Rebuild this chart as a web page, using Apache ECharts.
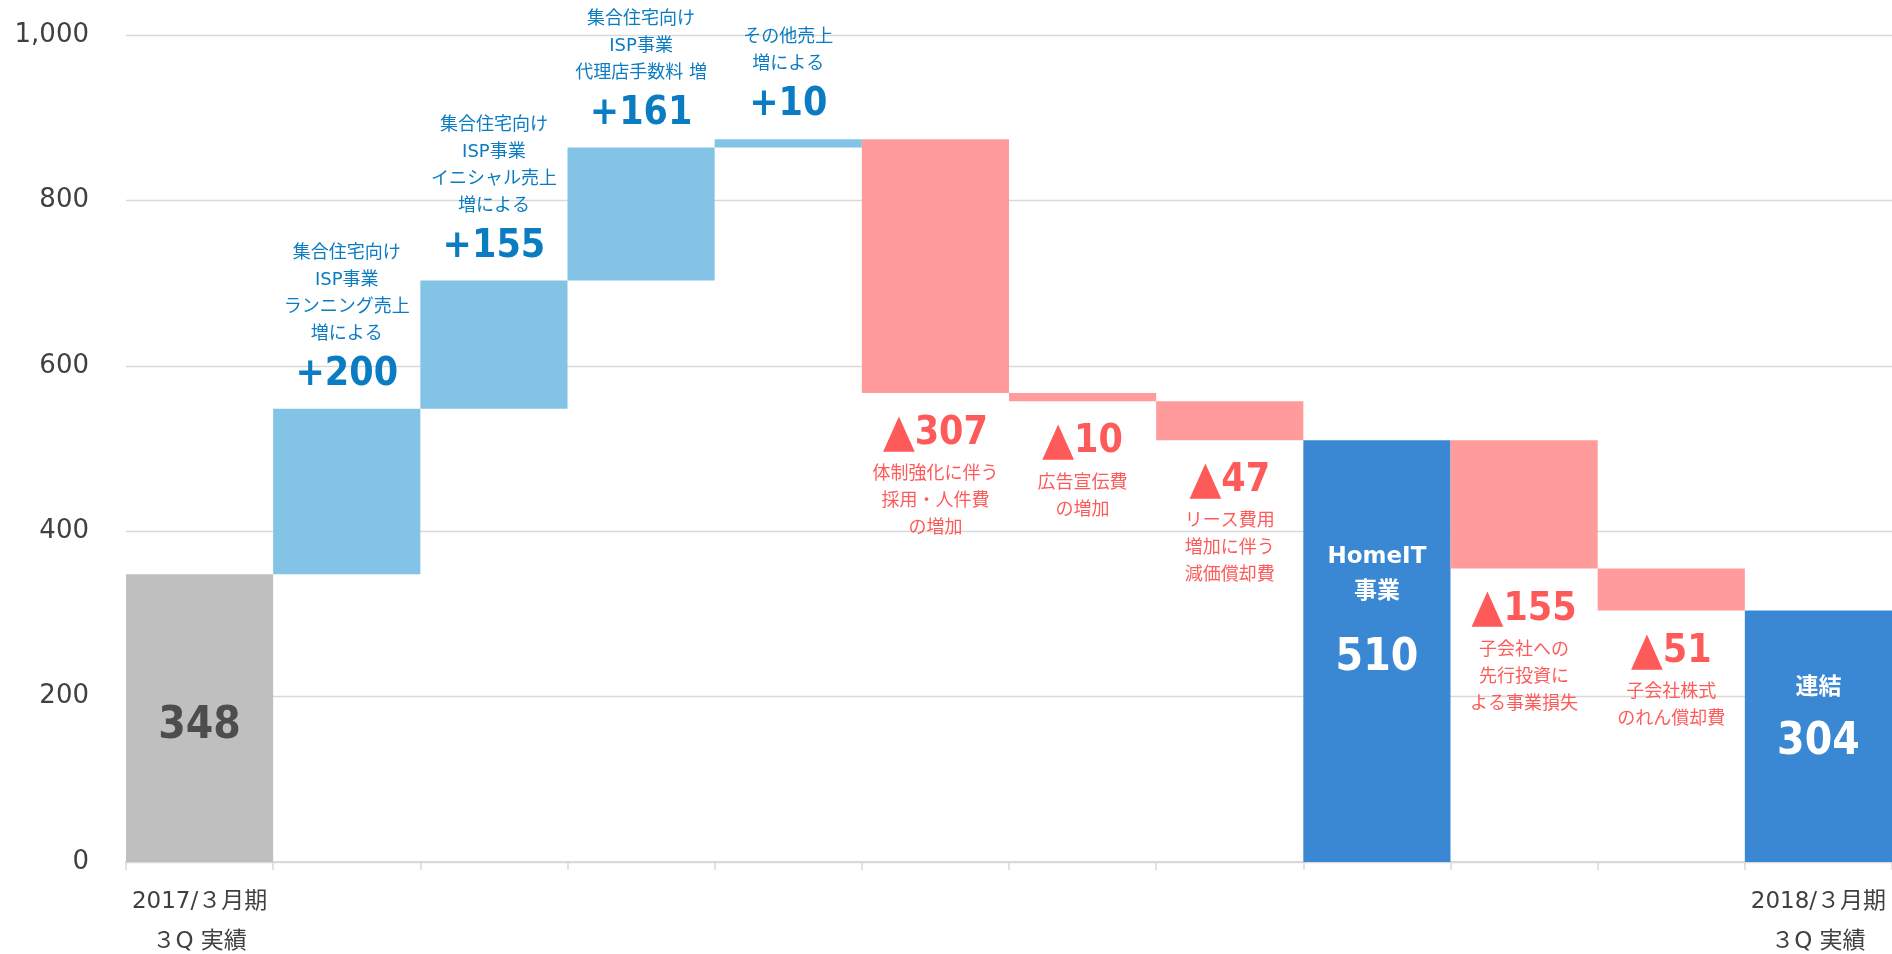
<!DOCTYPE html>
<html>
<head>
<meta charset="utf-8">
<script src="https://cdn.jsdelivr.net/npm/echarts@6/dist/echarts.min.js"></script>
<style>
html,body{margin:0;padding:0;background:#fff;}
#main{width:1892px;height:954px;}
</style>
</head>
<body>
<div id="main"></div>
<script>
// 横軸（両端だけ表示）
const categories = ['2017/３月期\n３Q 実績', '', '', '', '', '', '', '', '', '', '', '2018/３月期\n３Q 実績'];
// 増減値（合計棒は値そのもの）
const steps = [348, 200, 155, 161, 10, -307, -10, -47, 510, -155, -51, 304];
const isTotal = [true, false, false, false, false, false, false, false, true, false, false, true];
const notes = [
  '',
  '集合住宅向け\nISP事業\nランニング売上\n増による',
  '集合住宅向け\nISP事業\nイニシャル売上\n増による',
  '集合住宅向け\nISP事業\n代理店手数料 増',
  'その他売上\n増による',
  '体制強化に伴う\n採用・人件費\nの増加',
  '広告宣伝費\nの増加',
  'リース費用\n増加に伴う\n減価償却費',
  'HomeIT\n事業',
  '子会社への\n先行投資に\nよる事業損失',
  '子会社株式\nのれん償却費',
  '連結'
];
const yMin = 0, yMax = 1000, yStep = 200;

const FONT = "'DejaVu Sans', 'Noto Sans CJK JP', sans-serif";
const BIG = "'DejaVu Sans Condensed', 'DejaVu Sans', sans-serif";
const C_GRAY = '#BFBFBF', C_UP = '#83C3E6', C_DOWN = '#FF9B9B', C_TOTAL = '#3A87D3';
const T_UP = '#0B7CC2', T_DOWN = '#FF5A5A';

function buildSeries() {
  let running = 0;
  const base = [], vis = [];
  steps.forEach((v, i) => {
    let b, h;
    if (isTotal[i]) { b = 0; h = v; running = v; }
    else if (v >= 0) { b = running; h = v; running += v; }
    else { running += v; b = running; h = -v; }
    base.push(b);
    const lines = notes[i] ? notes[i].split('\n') : [];
    let item = { value: h };
    if (isTotal[i]) {
      if (i === 0) {
        item.itemStyle = { color: C_GRAY };
        item.label = {
          show: true, position: 'insideTop', distance: 122,
          formatter: '{n|' + v + '}',
          rich: { n: { fontFamily: BIG, fontSize: 44, fontWeight: 'bold', color: '#4D4D4D', lineHeight: 60 } }
        };
      } else {
        item.itemStyle = { color: C_TOTAL };
        const hl = lines.map(s => '{h|' + s + '}').join('\n');
        item.label = {
          show: true, position: 'insideTop',
          distance: lines.length > 1 ? 99 : 60,
          formatter: hl + '\n{n|' + v + '}',
          rich: {
            h: { fontFamily: FONT, fontSize: 23, fontWeight: 'bold', color: '#fff', lineHeight: 35 },
            n: { fontFamily: BIG, fontSize: 44, fontWeight: 'bold', color: '#fff', lineHeight: lines.length > 1 ? 98 : 74 }
          }
        };
      }
    } else if (v >= 0) {
      item.itemStyle = { color: C_UP };
      item.label = {
        show: true, position: 'top', distance: 7,
        formatter: lines.map(s => '{d|' + s + '}').join('\n') + '\n{v|+' + v + '}',
        rich: {
          d: { fontFamily: FONT, fontSize: 18, color: T_UP, lineHeight: 27 },
          v: { fontFamily: BIG, fontSize: 39, fontWeight: 'bold', color: T_UP, lineHeight: 54 }
        }
      };
    } else {
      item.itemStyle = { color: C_DOWN };
      item.label = {
        show: true, position: 'bottom', distance: 14,
        formatter: '{t|▲}{v|' + (-v) + '}\n' + lines.map(s => '{d|' + s + '}').join('\n'),
        rich: {
          d: { fontFamily: FONT, fontSize: 18, color: T_DOWN, lineHeight: 27 },
          t: { fontFamily: BIG, fontSize: 46, color: T_DOWN, lineHeight: 54 },
          v: { fontFamily: BIG, fontSize: 39, fontWeight: 'bold', color: T_DOWN, lineHeight: 54 }
        }
      };
    }
    vis.push(item);
  });
  return { base, vis };
}

const { base, vis } = buildSeries();

const option = {
  animation: false,
  grid: { left: 126, right: 0, top: 35, bottom: 92, containLabel: false, outerBoundsMode: 'none' },
  xAxis: {
    type: 'category',
    data: categories,
    boundaryGap: true,
    axisLine: { show: true, lineStyle: { color: '#D9D9D9', width: 2 } },
    axisTick: { show: true, alignWithLabel: false, interval: 0, length: 8, lineStyle: { color: '#D9D9D9', width: 1.5 } },
    axisLabel: {
      interval: 0, margin: 20, color: '#404040', fontFamily: FONT, fontSize: 23, lineHeight: 40
    },
    splitLine: { show: false }
  },
  yAxis: {
    type: 'value',
    min: yMin, max: yMax, interval: yStep,
    axisLine: { show: false },
    axisTick: { show: false },
    axisLabel: { margin: 37, color: '#404040', fontFamily: FONT, fontSize: 26 },
    splitLine: { lineStyle: { color: '#D9D9D9', width: 1.3 } }
  },
  series: [
    {
      name: 'base', type: 'bar', stack: 'w', silent: true,
      barCategoryGap: '0%',
      itemStyle: { color: 'transparent' },
      data: base
    },
    {
      name: 'value', type: 'bar', stack: 'w',
      barCategoryGap: '0%',
      data: vis
    }
  ]
};

const myChart = echarts.init(document.getElementById('main'));
myChart.setOption(option);
</script>
</body>
</html>
